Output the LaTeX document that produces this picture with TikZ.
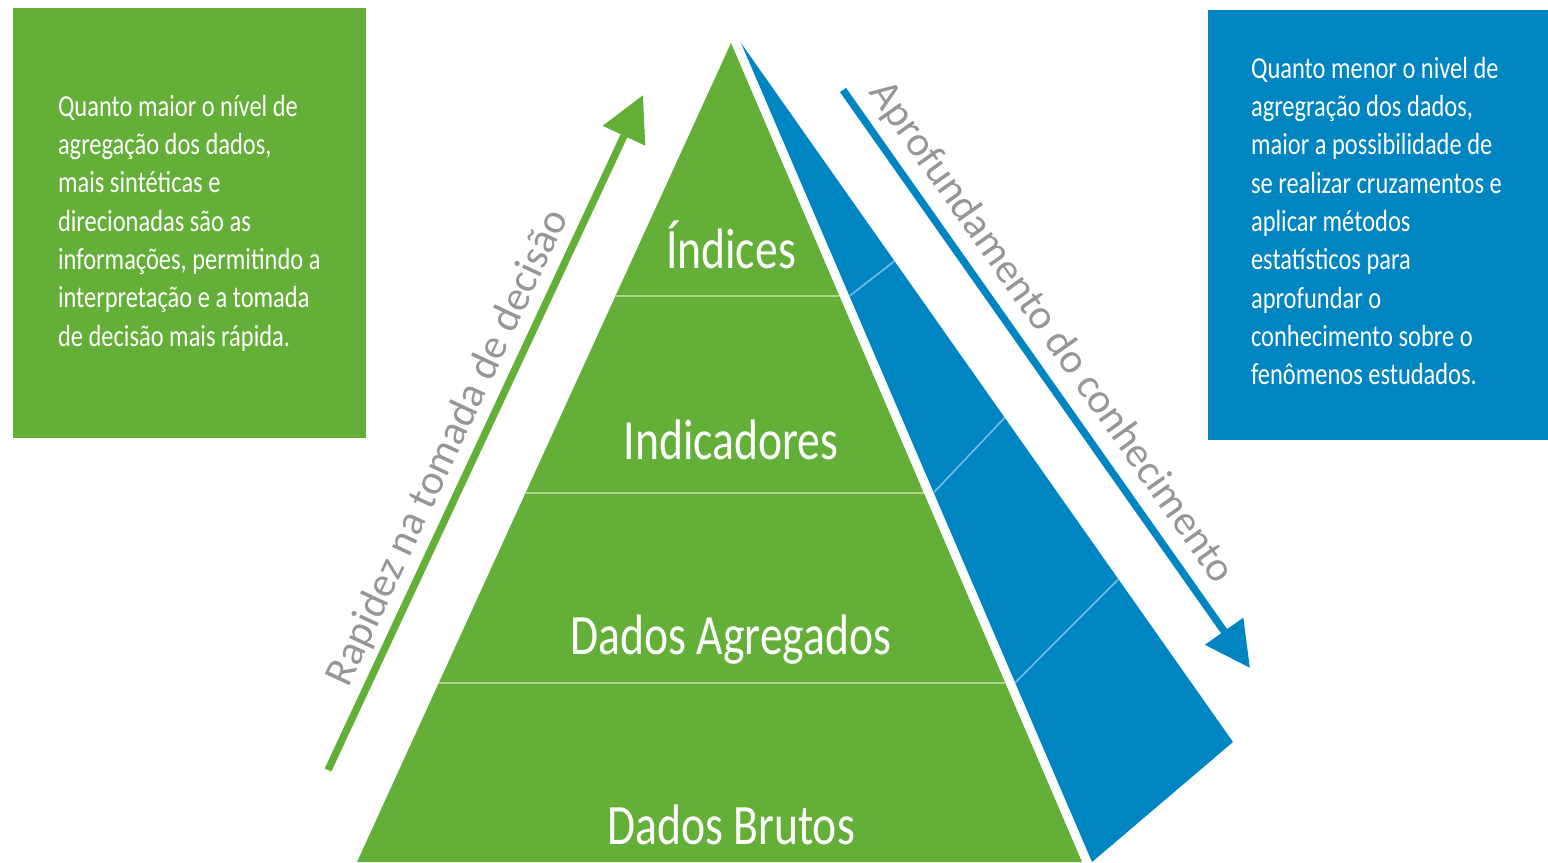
\documentclass[tikz,border=0pt]{standalone}
\usepackage{fontspec}
\setmainfont{Carlito}[FakeStretch=0.8]
\newfontfamily\plainfont{Carlito}
\usetikzlibrary{positioning,calc,arrows.meta}
\definecolor{pyrgreen}{RGB}{99,175,55}
\definecolor{pyrblue}{RGB}{0,133,195}
\definecolor{linegreen}{RGB}{175,215,140}
\definecolor{lineblue}{RGB}{110,185,228}
\definecolor{labelgray}{RGB}{150,150,150}
\tikzset{%
	info box/.style={
		rectangle,
		draw=none,
		minimum height=8.6cm
	},
	box text/.style={
		inner sep=0pt,
		text=white,
		align=left,
		font=\fontsize{17.4}{21.83}\selectfont
	},
	level label/.style={
		text=white,
		font=\fontsize{32.5}{34}\selectfont
	},
	divider/.style={
		draw=linegreen,
		line width=1.2pt
	},
	blue divider/.style={
		draw=lineblue,
		line width=1pt
	},
	side arrow/.style={
		->,
		line width=4.2pt
	},
	side label/.style={
		text=labelgray,
		font=\plainfont\fontsize{24}{26}\selectfont,
		sloped,
		above,
		inner sep=3pt
	},
}

\begin{document}
\begin{tikzpicture}[x=0.02cm, y=-0.02cm, >={Triangle[length=0.9cm,width=0.9cm]}]
	
	\useasboundingbox (0,0) rectangle (1548,862);
	
	% side boxes
	\node [info box, fill=pyrgreen, minimum width=7.06cm] (left-box) at (189.5,223) {};
	\node [info box, fill=pyrblue, minimum width=6.8cm] (right-box) at (1378,225) {};
	
	\node [box text, right=0.9cm of left-box.west] (left-text) {Quanto maior o nível de\\
		agregação dos dados,\\
		mais sintéticas e\\
		direcionadas são as\\
		informações, permitindo a\\
		interpretação e a tomada\\
		de decisão mais rápida.};
	
	\node [box text, right=0.86cm of right-box.west, yshift=0.08cm] (right-text) {Quanto menor o nivel de\\
		agregração dos dados,\\
		maior a possibilidade de\\
		se realizar cruzamentos e\\
		aplicar métodos\\
		estatísticos para\\
		aprofundar o\\
		conhecimento sobre o\\
		fenômenos estudados.};
	
	% pyramid and blue wedge
	\coordinate (apex) at (731,43);
	\coordinate (base-left) at (357,862);
	\coordinate (base-right) at (1082,862);
	\coordinate (blue-top) at (741,43);
	\coordinate (blue-corner) at (1233,742);
	\coordinate (blue-bottom) at (1092,862);
	
	\fill [pyrgreen] (apex) -- (base-left) -- (base-right) -- cycle;
	\fill [pyrblue] (blue-top) -- (blue-corner) -- (blue-bottom) -- cycle;
	
	\foreach \t in {0.309,0.549,0.781}
	\draw [divider] ($(apex)!\t!(base-left)$) -- ($(apex)!\t!(base-right)$);
	
	\foreach \t/\s in {0.309/0.312,0.549/0.536,0.781/0.767}
	\draw [blue divider] ($(blue-top)!\t!(blue-bottom)$) -- ($(blue-top)!\s!(blue-corner)$);
	
	\foreach \l/\y [count=\i] in {Índices/245,Indicadores/440,Dados Agregados/640,Dados Brutos/825}
	\node [level label] (level-\i) at (731,\y) {\l};
	
	% arrows
	\coordinate (rise-start) at (328,770);
	\coordinate (rise-end) at (643,95);
	\coordinate (deep-start) at (843,90);
	\coordinate (deep-end) at (1250,668);
	
	\draw [side arrow, pyrgreen] (rise-start) -- (rise-end)
	node [side label, pos=0.46] (rise-label) {Rapidez na tomada de decisão};
	
	\draw [side arrow, pyrblue] (deep-start) -- (deep-end)
	node [side label, pos=0.45, inner sep=5pt] (deep-label) {Aprofundamento do conhecimento};
	
\end{tikzpicture}
\end{document}
